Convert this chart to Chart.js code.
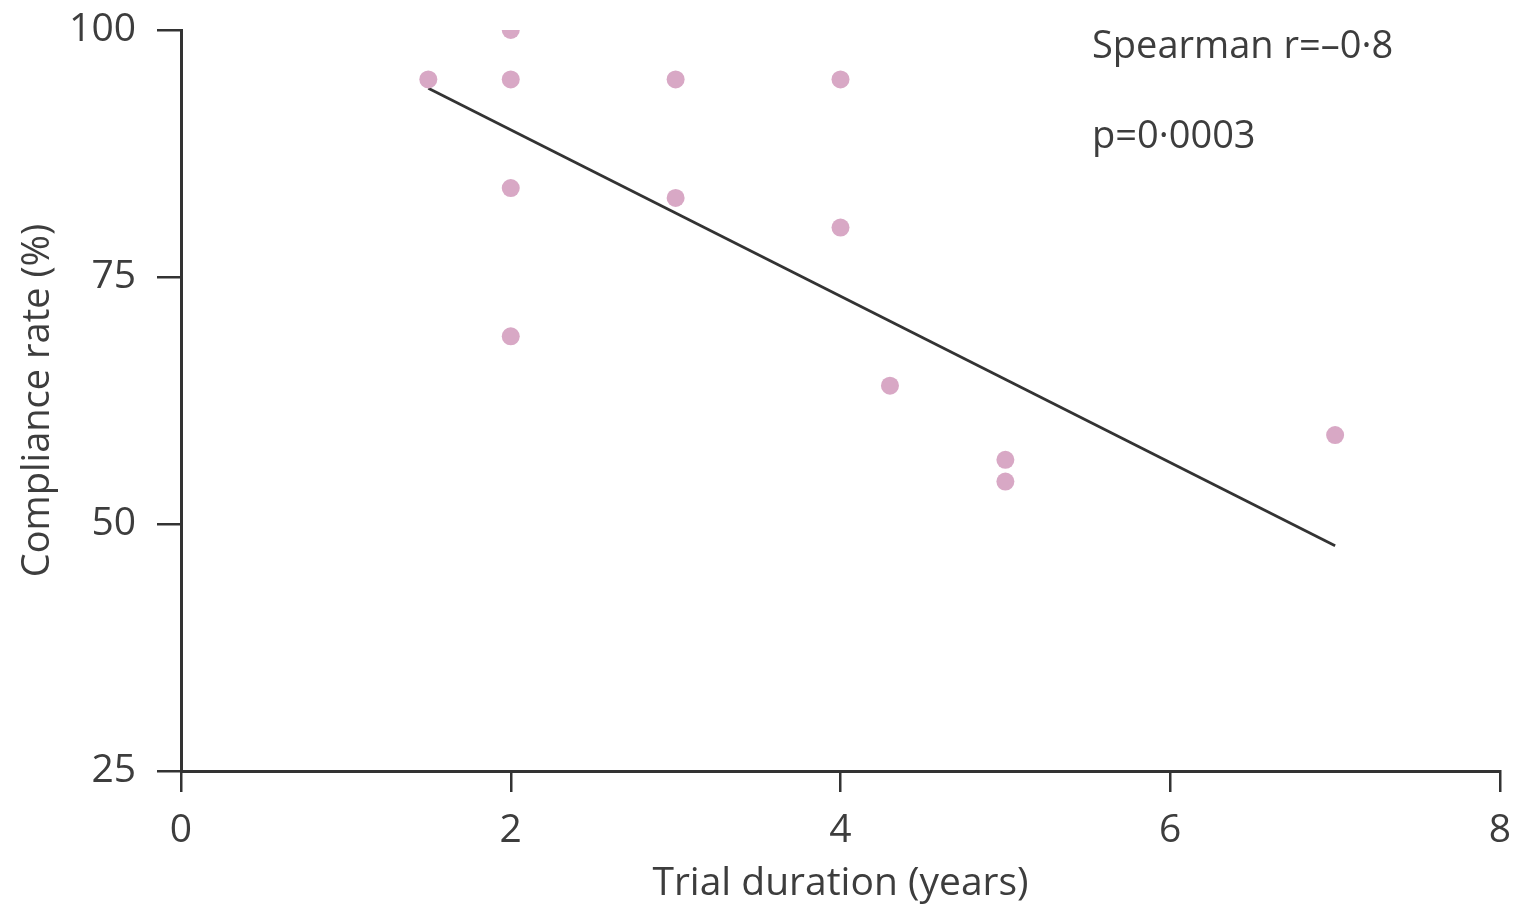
<!DOCTYPE html>
<html>
<head>
<meta charset="utf-8">
<script src="https://cdn.jsdelivr.net/npm/chart.js@4/dist/chart.umd.min.js"></script>
<style>
  html, body { margin: 0; padding: 0; background: #fff; }
  #wrap { width: 1515px; height: 907px; }
</style>
</head>
<body>
<div id="wrap"><canvas id="c" width="1515" height="907"></canvas></div>
<script>
// Data
const durationYears = [1.5, 2, 2, 2, 2, 3, 3, 4, 4, 4.3, 5, 5, 7];
const complianceRate = [95, 100, 95, 84, 69, 95, 83, 95, 80, 64, 56.5, 54.3, 59];
const fitX = [1.5, 7];
const fitY = [94.1, 47.8];
const xTicks = [0, 2, 4, 6, 8];
const yTicks = [25, 50, 75, 100];
const xTitle = 'Trial duration (years)';
const yTitle = 'Compliance rate (%)';
const statLines = ['Spearman r=\u20130\u00b78', 'p=0\u00b70003'];

const FONT = '"Open Sans", "Noto Sans", sans-serif';
const INK = '#3d3d3d';
const FS = 39;

const annot = {
  id: 'annot',
  afterDraw(chart) {
    const ctx = chart.ctx;
    ctx.save();
    ctx.fillStyle = INK;
    ctx.font = '400 ' + (FS - 1) + 'px ' + FONT;
    ctx.textBaseline = 'alphabetic';
    ctx.textAlign = 'left';
    ctx.fillText(statLines[0], 1092, 58);
    ctx.fillText(statLines[1], 1092, 148);
    ctx.restore();
  }
};

new Chart(document.getElementById('c'), {
  type: 'scatter',
  data: {
    datasets: [
      {
        type: 'line',
        data: fitX.map((x, i) => ({ x, y: fitY[i] })),
        borderColor: '#333',
        borderWidth: 2.8,
        pointRadius: 0,
        fill: false,
        order: 2
      },
      {
        data: durationYears.map((x, i) => ({ x, y: complianceRate[i] })),
        backgroundColor: '#d8a8c5',
        borderWidth: 0,
        pointRadius: 9,
        order: 1
      }
    ]
  },
  options: {
    responsive: false,
    animation: false,
    layout: { padding: { top: 30, right: 15, left: 15, bottom: 0 } },
    plugins: { legend: { display: false }, tooltip: { enabled: false } },
    scales: {
      x: {
        type: 'linear',
        min: 0, max: 8,
        afterBuildTicks: s => { s.ticks = xTicks.map(v => ({ value: v })); },
        afterFit: s => { s.height = 136; s.paddingLeft = 0; s.paddingRight = 0; },
        border: { display: true, color: '#333', width: 3 },
        grid: { drawOnChartArea: false, drawTicks: true, tickLength: 21, color: '#333', lineWidth: 2.5 },
        ticks: { color: INK, font: { family: FONT, size: FS, weight: 400 }, padding: 15 },
        title: { display: true, text: xTitle, color: INK, font: { family: FONT, size: FS, weight: 400 }, padding: { top: 4, bottom: 0 } }
      },
      y: {
        type: 'linear',
        min: 25, max: 100,
        afterBuildTicks: s => { s.ticks = yTicks.map(v => ({ value: v })); },
        afterFit: s => { s.width = 166; s.paddingTop = 0; s.paddingBottom = 0; },
        border: { display: true, color: '#333', width: 3 },
        grid: { drawOnChartArea: false, drawTicks: true, tickLength: 24, color: '#333', lineWidth: 2.5 },
        ticks: { color: INK, font: { family: FONT, size: FS, weight: 400 }, padding: 21 },
        title: { display: true, text: yTitle, color: INK, font: { family: FONT, size: FS - 1, weight: 400 }, padding: { top: 0, bottom: 0 } }
      }
    }
  },
  plugins: [annot]
});
</script>
</body>
</html>
